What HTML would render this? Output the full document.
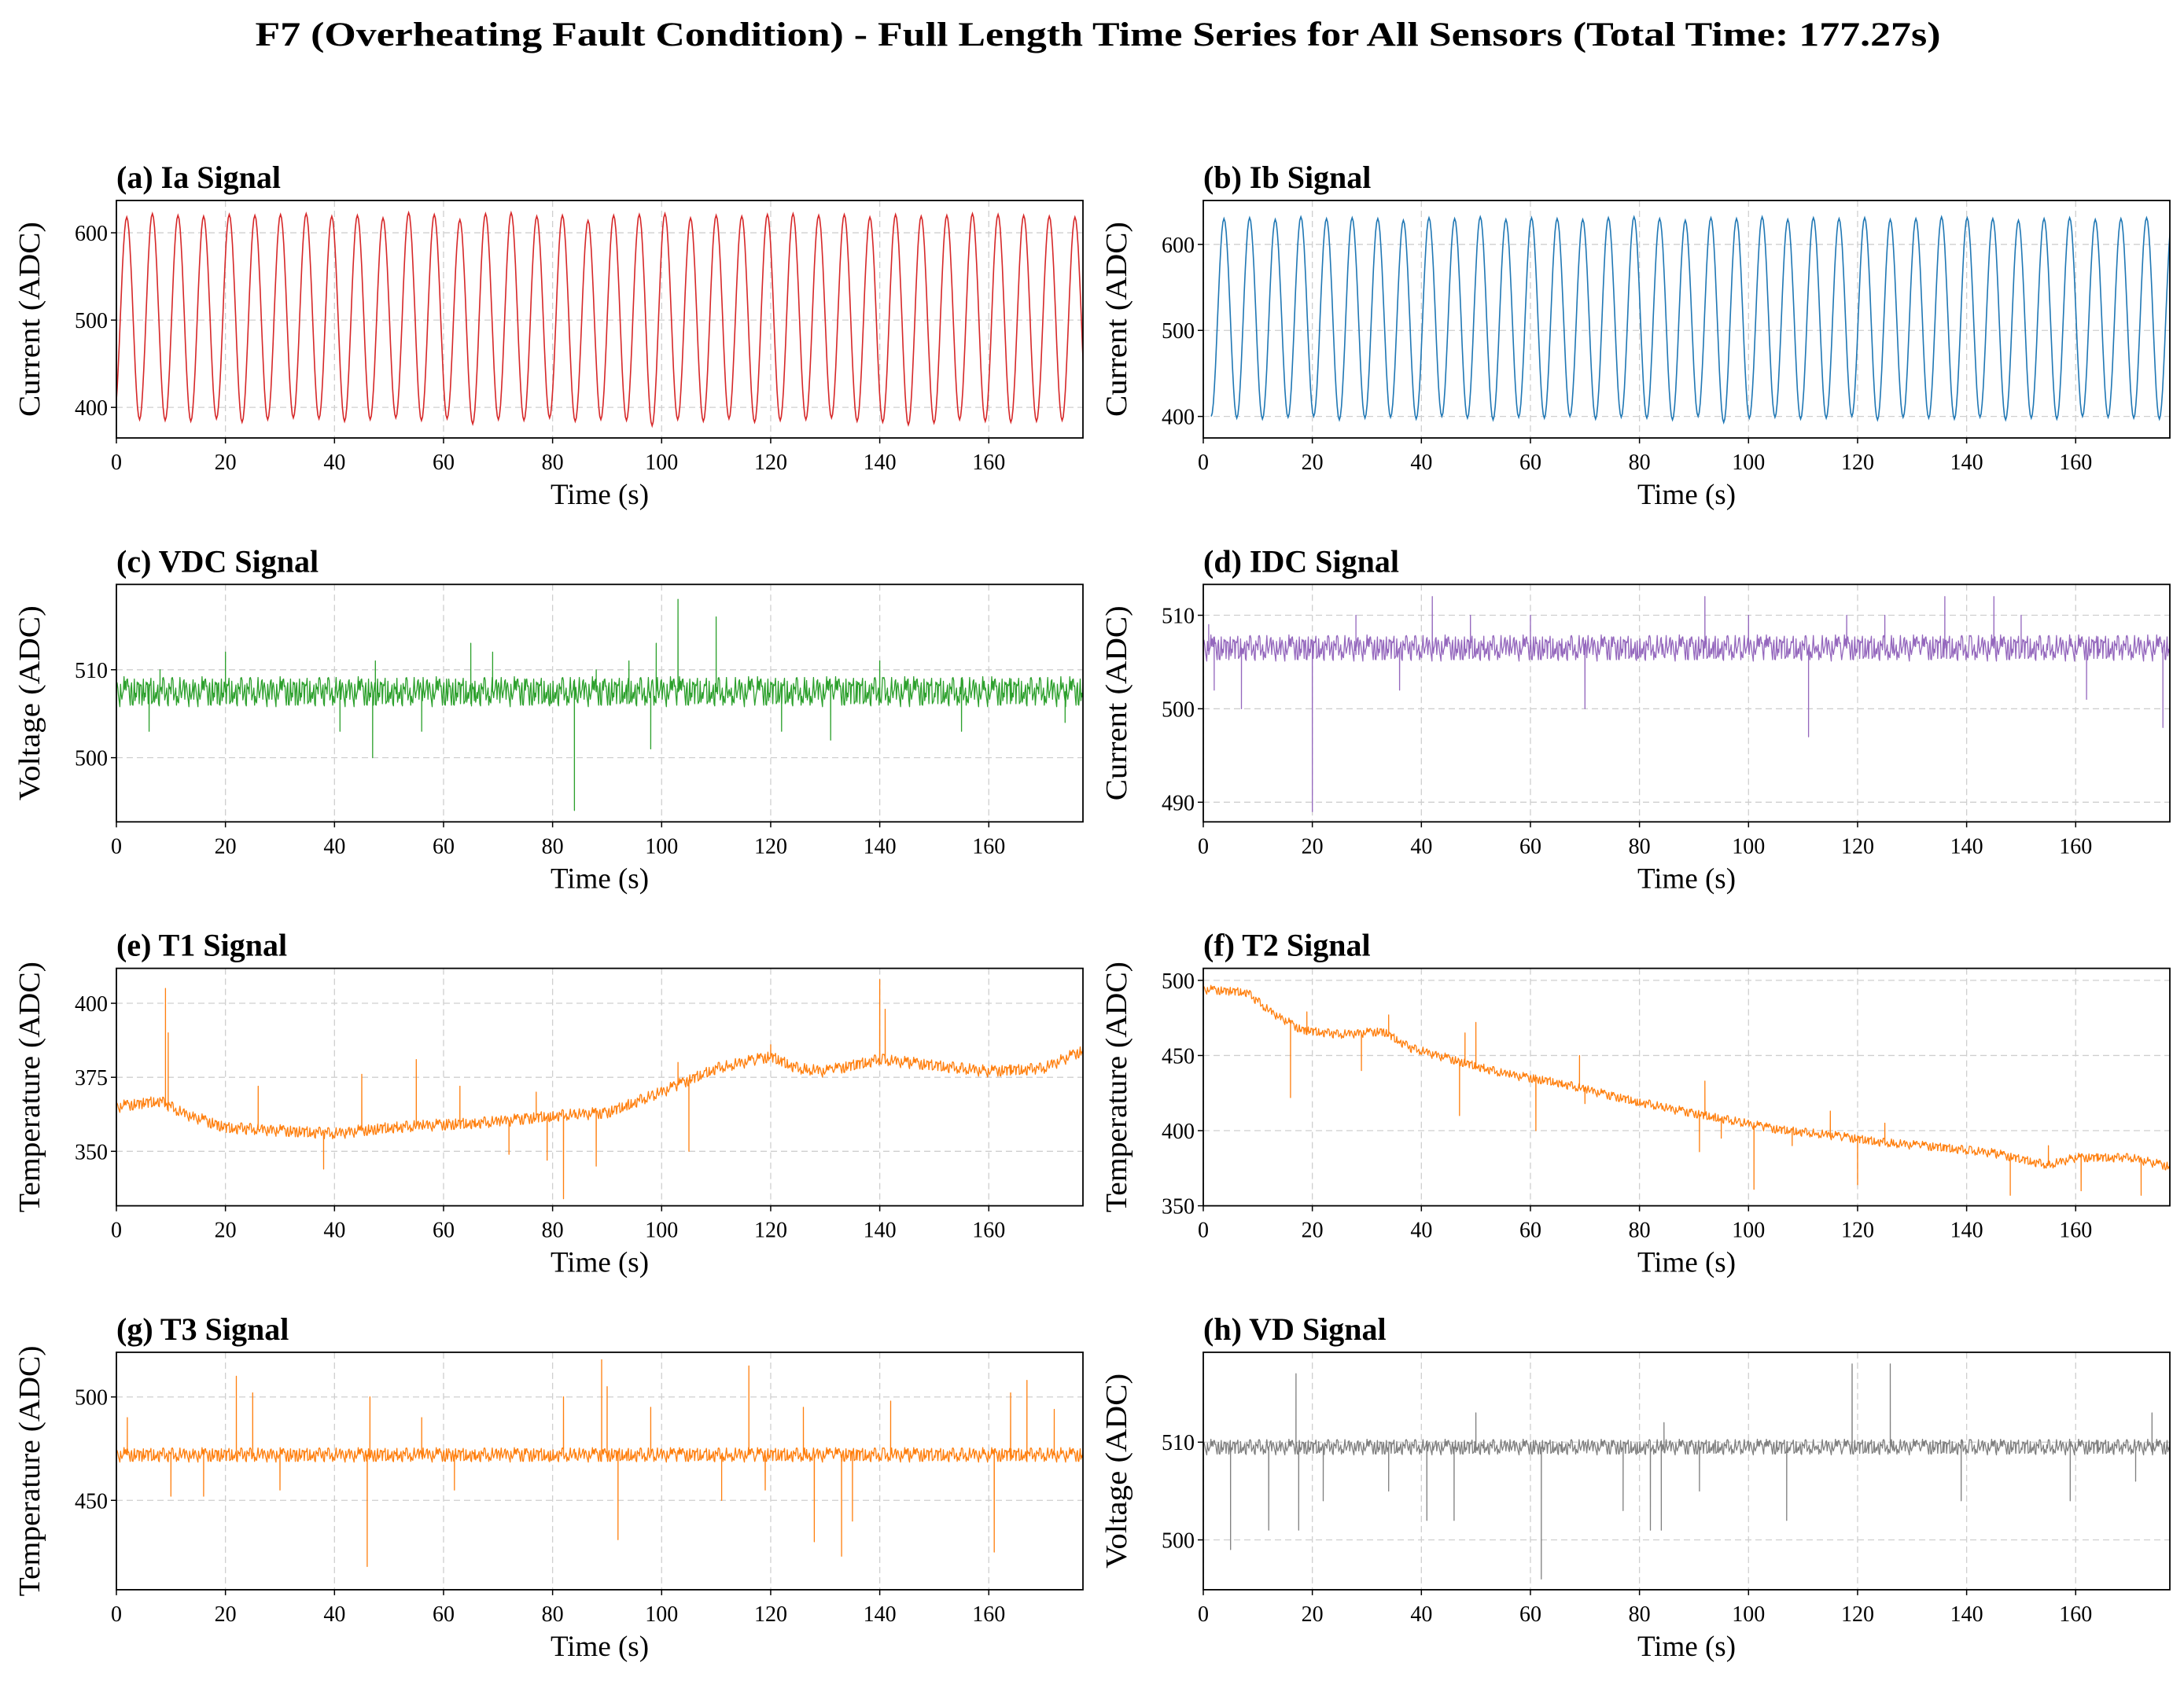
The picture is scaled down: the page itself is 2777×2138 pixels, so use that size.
<!DOCTYPE html>
<html><head><meta charset="utf-8">
<style>
html,body{margin:0;padding:0;background:#fff;}
svg{display:block;}
text{font-family:"Liberation Serif",serif;fill:#000;}
</style></head>
<body>
<svg id="fig" width="2777" height="2138" viewBox="0 0 2777 2138" xmlns="http://www.w3.org/2000/svg">
<rect width="2777" height="2138" fill="#fff"/>
<text x="1396" y="58" text-anchor="middle" font-size="43" font-weight="bold" textLength="2143" lengthAdjust="spacingAndGlyphs">F7 (Overheating Fault Condition) - Full Length Time Series for All Sensors (Total Time: 177.27s)</text>
</svg>
<script>
// ---------- data ----------
const xTicks = [0,20,40,60,80,100,120,140,160];
const tMax = 177.27;

const iaPeakT = [1.9,6.6,11.3,16.0,20.7,25.4,30.1,34.8,39.5,44.2,48.9,53.6,58.3,63.0,67.7,72.4,77.1,81.8,86.5,91.2,95.9,100.6,105.3,110.0,114.7,119.4,124.1,128.8,133.5,138.2,142.9,147.6,152.3,157.0,161.7,166.4,171.1,175.8];
const iaPeakV = [618,622,620,619,621,620,621,622,619,620,617,623,621,615,622,623,619,620,614,620,621,622,617,620,619,621,622,620,621,618,621,619,620,622,621,620,619,618];
const iaTroughV = [388,386,385,384,387,383,386,388,387,384,386,388,385,387,381,386,385,388,384,386,385,379,386,384,387,383,385,386,388,384,383,380,382,386,384,383,384,385,384];

const ibPeakT = [3.8,8.5,13.2,17.9,22.6,27.3,32.0,36.7,41.4,46.1,50.8,55.5,60.2,64.9,69.6,74.3,79.0,83.7,88.4,93.1,97.8,102.5,107.2,111.9,116.6,121.3,126.0,130.7,135.4,140.1,144.8,149.5,154.2,158.9,163.6,168.3,173.0];
const ibPeakV = [630,631,629,632,630,631,630,628,631,630,632,629,631,630,629,631,632,630,628,631,630,632,629,631,630,631,629,630,632,631,630,628,630,631,629,630,631];
const ibTroughV = [400,398,397,399,400,396,398,399,397,400,398,396,399,398,400,397,399,398,396,400,393,398,399,397,398,400,396,399,398,397,399,396,398,397,400,399,398,397];

const noise = [0.3,-0.6,0.9,-0.2,0.5,-0.9,0.1,0.7,-0.4,0.2,-0.8,0.6,-0.1,0.95,-0.5,0.4,-0.3,0.8,-0.7,0.0,0.6,-0.95,0.25,-0.35,0.75,-0.15,0.45,-0.65,0.85,-0.45,0.15,-0.85,0.55,-0.25,0.65,-0.55,0.05,0.9,-0.75,0.35,-0.05,0.7,-0.9,0.2,-0.6,0.5,-0.3,1.0,-0.8,0.1,0.4,-0.45,0.8,-0.2,0.3,-1.0,0.6,-0.1,0.15,-0.7,0.95,-0.35,0.05,-0.5,0.85,-0.15,0.5,-0.8,0.25,0.7,-0.6,0.0,-0.9,0.45];

const vdcTrend = [[0,507.5],[177.27,507.5]];
const vdcSpikes = [[6,503],[8,510],[20,512],[41,503],[47,500],[47.5,511],[56,503],[65,513],[69,512],[84,494],[88,510],[94,511],[98,501],[99,513],[103,518],[110,516],[122,503],[131,502],[140,511],[155,503],[174,504]];

const idcTrend = [[0,506.5],[177.27,506.5]];
const idcSpikes = [[1,509],[2,502],[7,500],[20,489],[28,510],[36,502],[42,512],[49,510],[60,510],[70,500],[92,512],[100,510],[111,497],[118,510],[125,510],[136,512],[145,512],[150,510],[162,501],[176,498]];

const t1Trend = [[0,365],[8,367],[12,363],[20,358],[30,357],[40,356],[50,358],[60,359],[70,360],[80,362],[90,363],[100,370],[110,378],[120,382],[125,378],[130,377],[140,381],[150,379],[160,377],[170,378],[177.27,384]];
const t1Spikes = [[9,405],[9.5,390],[26,372],[38,344],[45,376],[55,381],[63,372],[72,349],[77,370],[79,347],[82,334],[88,345],[103,380],[105,350],[120,386],[140,408],[141,398]];

const t2Trend = [[0,494],[8,492],[12,480],[18,467],[25,464],[33,466],[38,455],[45,448],[55,438],[65,432],[75,423],[85,415],[95,408],[105,401],[115,397],[125,392],[135,389],[145,385],[155,377],[160,382],[170,382],[177.27,376]];
const t2Spikes = [[16,422],[19,479],[29,440],[34,477],[47,410],[48,465],[50,472],[61,400],[69,450],[70,418],[91,386],[92,433],[95,395],[101,361],[108,390],[115,413],[120,364],[125,405],[148,357],[155,390],[161,360],[172,357]];

const t3Trend = [[0,472],[177.27,472]];
const t3Spikes = [[2,490],[10,452],[16,452],[22,510],[25,502],[30,455],[46,418],[46.5,500],[56,490],[62,455],[82,500],[89,518],[90,505],[92,431],[98,495],[111,450],[116,515],[119,455],[126,495],[128,430],[133,423],[135,440],[142,498],[161,425],[164,502],[167,508],[172,494]];

const vdTrend = [[0,509.5],[177.27,509.5]];
const vdSpikes = [[5,499],[12,501],[17,517],[17.5,501],[22,504],[34,505],[41,502],[46,502],[50,513],[62,496],[77,503],[82,501],[84,501],[84.5,512],[91,505],[107,502],[119,518],[126,518],[139,504],[159,504],[171,506],[174,513]];

// ---------- layout ----------
const NS = "http://www.w3.org/2000/svg";
const svg = document.getElementById('fig');
const colX = [148,1530], W = 1229, rowY0 = 255, rowStep = 488.3, H = 302;
const ylabLen = {'Current (ADC)':248,'Voltage (ADC)':248,'Temperature (ADC)':319};

function el(tag, attrs, parent){
  const e = document.createElementNS(NS, tag);
  for (const k in attrs) e.setAttribute(k, attrs[k]);
  (parent||svg).appendChild(e);
  return e;
}

function makeAxes(idx, title, ylabel, ymin, ymax, yTicks, name){
  const col = idx % 2, row = Math.floor(idx/2);
  const x0 = colX[col], y0 = rowY0 + row*rowStep;
  const g = el('g', {});
  
  
  const sx = t => x0 + t/tMax*W;
  const sy = v => y0 + H - (v-ymin)/(ymax-ymin)*H;
  xTicks.forEach(t=>{
    const l = el('line',{x1:sx(t),x2:sx(t),y1:y0,y2:y0+H,stroke:'#cfcfcf','stroke-width':1.3,'stroke-dasharray':'8,5'},g);
    
    
  });
  yTicks.forEach(v=>{
    const l = el('line',{x1:x0,x2:x0+W,y1:sy(v),y2:sy(v),stroke:'#cfcfcf','stroke-width':1.3,'stroke-dasharray':'8,5'},g);
    
    
  });
  xTicks.forEach(t=>{
    el('line',{x1:sx(t),x2:sx(t),y1:y0+H,y2:y0+H+7,stroke:'#000','stroke-width':1.5},g);
    const tx = el('text',{x:sx(t),y:y0+H+40,'text-anchor':'middle','font-size':28},g);
    tx.textContent = t;
    
    
  });
  yTicks.forEach(v=>{
    el('line',{x1:x0-7,x2:x0,y1:sy(v),y2:sy(v),stroke:'#000','stroke-width':1.5},g);
    const tx = el('text',{x:x0-11,y:sy(v)+10,'text-anchor':'end','font-size':28},g);
    tx.textContent = v;
    
    
  });
  const xl = el('text',{x:x0+W/2,y:y0+H+84,'text-anchor':'middle','font-size':37},g);
  xl.textContent = 'Time (s)';
  
  
  const yl = el('text',{x:0,y:0,'text-anchor':'middle','font-size':38,textLength:ylabLen[ylabel],lengthAdjust:'spacingAndGlyphs',transform:`translate(${x0-98},${y0+H/2}) rotate(-90)`},g);
  yl.textContent = ylabel;
  
  
  const tt = el('text',{x:x0,y:y0-16,'font-size':40,'font-weight':'bold'},g);
  tt.textContent = title;
  
  
  const cid = 'clip'+idx;
  const cp = el('clipPath',{id:cid},g);
  el('rect',{x:x0,y:y0,width:W,height:H},cp);
  const dg = el('g',{'clip-path':`url(#${cid})`},g);
  return {g, dg, sx, sy, x0, y0};
}

function frame(ax){
  const r = el('rect',{x:ax.x0,y:ax.y0,width:W,height:H,fill:'none',stroke:'#000','stroke-width':1.8},ax.g);
  
  
}

function sineSeries(ax, peakT, peakV, troughV, color, name){
  const ext = [];
  const half0 = (peakT[1]-peakT[0])/2;
  ext.push([peakT[0]-half0, troughV[0]]);
  for (let i=0;i<peakT.length;i++){
    ext.push([peakT[i], peakV[i]]);
    const nt = i+1<peakT.length ? (peakT[i]+peakT[i+1])/2 : peakT[i]+half0;
    ext.push([nt, troughV[Math.min(i+1,troughV.length-1)]]);
  }
  ext.push([ext[ext.length-1][0]+half0, peakV[peakV.length-1]]);
  let d = '';
  for (let i=0;i<ext.length-1;i++){
    const [ta,va]=ext[i],[tb,vb]=ext[i+1];
    for (let k=0;k<12;k++){
      const f=k/12, c=(1-Math.cos(Math.PI*f))/2;
      d += (d?'L':'M') + ax.sx(ta+(tb-ta)*f).toFixed(1)+','+ax.sy(va+(vb-va)*c).toFixed(1);
    }
  }
  const p = el('path',{d,fill:'none',stroke:color,'stroke-width':1.6},ax.dg);
  
  
}

function trendAt(trend, t){
  for (let i=0;i<trend.length-1;i++){
    if (t<=trend[i+1][0]){
      const f=(t-trend[i][0])/(trend[i+1][0]-trend[i][0]);
      return trend[i][1]+f*(trend[i+1][1]-trend[i][1]);
    }
  }
  return trend[trend.length-1][1];
}

function noisySeries(ax, trend, spikes, amp, color, name){
  const N = 1400;
  const pts = [];
  for (let i=0;i<N;i++){
    const t = i*tMax/(N-1);
    pts.push([t, trendAt(trend,t) + amp*noise[(i*11+Math.floor(i/37)*5)%noise.length]]);
  }
  spikes.forEach(s=>{
    const b = trendAt(trend, s[0]);
    pts.push([s[0]-0.01,b],[s[0],s[1]],[s[0]+0.01,b]);
  });
  pts.sort((a,b)=>a[0]-b[0]);
  let d='';
  pts.forEach((p,i)=>{ d += (i?'L':'M')+ax.sx(p[0]).toFixed(1)+','+ax.sy(p[1]).toFixed(1); });
  const p = el('path',{d,fill:'none',stroke:color,'stroke-width':1.3,'stroke-linejoin':'round'},ax.dg);
  
  
}

let ax;
ax = makeAxes(0,'(a) Ia Signal','Current (ADC)',365,637,[400,500,600],'ia');
sineSeries(ax, iaPeakT, iaPeakV, iaTroughV, '#d62728','ia-line'); frame(ax);
ax = makeAxes(1,'(b) Ib Signal','Current (ADC)',375,651,[400,500,600],'ib');
sineSeries(ax, ibPeakT, ibPeakV, ibTroughV, '#1f77b4','ib-line'); frame(ax);
ax = makeAxes(2,'(c) VDC Signal','Voltage (ADC)',492.7,519.7,[500,510],'vdc');
noisySeries(ax, vdcTrend, vdcSpikes, 1.7, '#2ca02c','vdc-line'); frame(ax);
ax = makeAxes(3,'(d) IDC Signal','Current (ADC)',487.9,513.3,[490,500,510],'idc');
noisySeries(ax, idcTrend, idcSpikes, 1.4, '#9467bd','idc-line'); frame(ax);
ax = makeAxes(4,'(e) T1 Signal','Temperature (ADC)',331.6,411.8,[350,375,400],'t1');
noisySeries(ax, t1Trend, t1Spikes, 2.0, '#ff7f0e','t1-line'); frame(ax);
ax = makeAxes(5,'(f) T2 Signal','Temperature (ADC)',350,508,[350,400,450,500],'t2');
noisySeries(ax, t2Trend, t2Spikes, 3.0, '#ff7f0e','t2-line'); frame(ax);
ax = makeAxes(6,'(g) T3 Signal','Temperature (ADC)',406.8,521.6,[450,500],'t3');
noisySeries(ax, t3Trend, t3Spikes, 3.5, '#ff7f0e','t3-line'); frame(ax);
ax = makeAxes(7,'(h) VD Signal','Voltage (ADC)',494.9,519.2,[500,510],'vd');
noisySeries(ax, vdTrend, vdSpikes, 0.8, '#7f7f7f','vd-line'); frame(ax);
</script>
</body></html>
